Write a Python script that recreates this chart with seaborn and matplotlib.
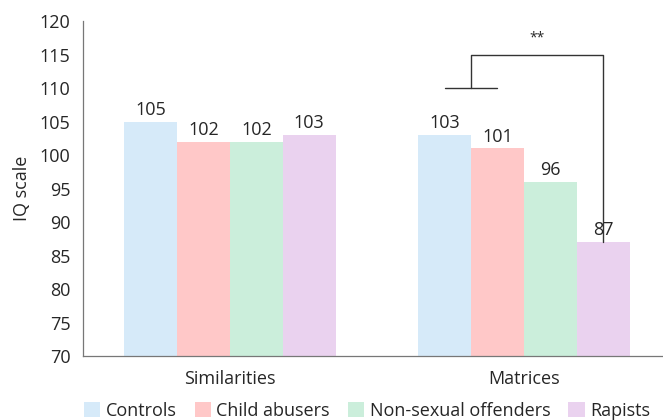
import pandas as pd
import seaborn as sns
import matplotlib.pyplot as plt

tests = ["Similarities", "Matrices"]
groups = ["Controls", "Child abusers", "Non-sexual offenders", "Rapists"]
similarities = [105, 102, 102, 103]
matrices = [103, 101, 96, 87]
colors = ["#D6EAF9", "#FFC8C8", "#CBEEDB", "#EAD2EF"]

df = pd.DataFrame({
    "test": [t for t in tests for _ in groups],
    "group": groups * 2,
    "iq": similarities + matrices,
})

sns.set_style("white")
plt.rcParams['font.family'] = ['Open Sans', 'DejaVu Sans']

fig, ax = plt.subplots(figsize=(6.63, 4.2), dpi=100)
sns.barplot(data=df, x="test", y="iq", hue="group", hue_order=groups,
            palette=colors, width=0.72, saturation=1, linewidth=0, ax=ax)

ax.set_ylim(70, 120)
ax.set_yticks(range(70, 121, 5))
ax.set_xlim(-0.5, 1.473)
ax.set_xlabel("")
ax.set_ylabel("IQ scale", fontsize=13, labelpad=6)
ax.tick_params(axis='both', labelsize=13, length=0)
ax.tick_params(axis='x', pad=10)
ax.tick_params(axis='y', pad=9)
for s in ["top", "right"]:
    ax.spines[s].set_visible(False)
for s in ["left", "bottom"]:
    ax.spines[s].set_color("#777777")
    ax.spines[s].set_linewidth(0.9)

for c in ax.containers:
    ax.bar_label(c, fmt="%d", fontsize=13, padding=2)

# significance bracket: Controls+Child abusers vs Rapists on Matrices
bars = {}
for c, g in zip(ax.containers, groups):
    bars[g] = [p.get_x() + p.get_width() / 2 for p in c.patches]
xc, xa, xr = bars["Controls"][1], bars["Child abusers"][1], bars["Rapists"][1]
xm = (xc + xa) / 2
ax.plot([xc, xa], [110, 110], color="#333333", lw=1)
ax.plot([xm, xm, xr, xr], [110, 115, 115, matrices[3]], color="#333333", lw=1)
ax.text((xm + xr) / 2, 116.3, "**", ha="center", va="bottom", fontsize=10)

ax.legend(loc="upper center", bbox_to_anchor=(0.49, -0.115), ncol=4, frameon=False,
          fontsize=13, handlelength=0.9, handleheight=0.9, handletextpad=0.3,
          columnspacing=1.0, borderaxespad=0)

fig.subplots_adjust(left=0.125, right=1.0, top=0.95, bottom=0.152)
fig.savefig("out.png", dpi=100)
